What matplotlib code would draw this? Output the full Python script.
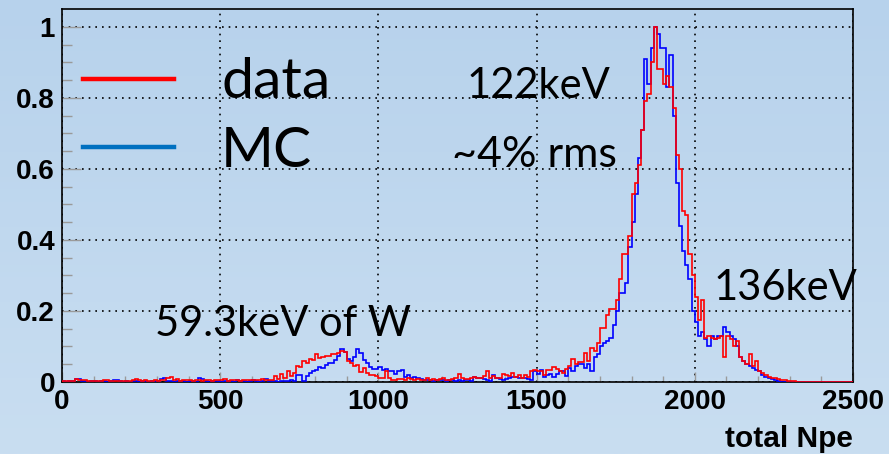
import numpy as np
import matplotlib.pyplot as plt
from matplotlib.colors import LinearSegmentedColormap
from matplotlib.lines import Line2D

# 10 Npe bins from 0 to 2500, peak-normalised
edges = np.arange(0, 2510, 10)

data_counts = [
    0.003, 0.002, 0.004, 0.003, 0.008, 0.006, 0.005, 0.007, 0.002, 0.003,   # 0
    0.002, 0.004, 0.003, 0.006, 0.005, 0.002, 0.003, 0.004, 0.002, 0.003,   # 100
    0.004, 0.003, 0.006, 0.008, 0.005, 0.003, 0.007, 0.004, 0.003, 0.005,   # 200
    0.004, 0.006, 0.005, 0.011, 0.014, 0.006, 0.008, 0.004, 0.007, 0.005,   # 300
    0.006, 0.004, 0.007, 0.005, 0.004, 0.007, 0.006, 0.004, 0.005, 0.007,   # 400
    0.005, 0.008, 0.004, 0.006, 0.007, 0.005, 0.004, 0.006, 0.005, 0.007,   # 500
    0.007, 0.005, 0.006, 0.008, 0.007, 0.006, 0.007, 0.016, 0.009, 0.023,   # 600
    0.012, 0.031, 0.016, 0.025, 0.044, 0.042, 0.058, 0.054, 0.065, 0.061,   # 700
    0.080, 0.068, 0.070, 0.072, 0.074, 0.080, 0.080, 0.082, 0.086, 0.084,   # 800
    0.058, 0.054, 0.044, 0.049, 0.027, 0.039, 0.025, 0.020, 0.020, 0.016,   # 900
    0.011, 0.011, 0.030, 0.011, 0.005, 0.005, 0.008, 0.008, 0.006, 0.011,   # 1000
    0.008, 0.006, 0.009, 0.005, 0.007, 0.010, 0.006, 0.008, 0.005, 0.009,   # 1100
    0.010, 0.007, 0.007, 0.009, 0.010, 0.023, 0.012, 0.008, 0.009, 0.010,   # 1200
    0.014, 0.010, 0.012, 0.017, 0.030, 0.012, 0.017, 0.012, 0.010, 0.023,   # 1300
    0.019, 0.017, 0.026, 0.014, 0.019, 0.012, 0.019, 0.014, 0.030, 0.033,   # 1400
    0.030, 0.030, 0.020, 0.033, 0.033, 0.042, 0.036, 0.030, 0.026, 0.036,   # 1500
    0.045, 0.064, 0.050, 0.055, 0.055, 0.083, 0.060, 0.097, 0.087, 0.110,   # 1600
    0.153, 0.153, 0.190, 0.205, 0.205, 0.230, 0.290, 0.360, 0.360, 0.410,   # 1700
    0.530, 0.560, 0.610, 0.710, 0.790, 0.810, 0.900, 1.000, 0.880, 0.880,   # 1800
    0.840, 0.860, 0.830, 0.770, 0.640, 0.600, 0.480, 0.470, 0.360, 0.300,   # 1900
    0.240, 0.175, 0.230, 0.125, 0.130, 0.125, 0.120, 0.125, 0.130, 0.070,   # 2000
    0.130, 0.120, 0.100, 0.115, 0.070, 0.060, 0.050, 0.080, 0.045, 0.060,   # 2100
    0.030, 0.025, 0.020, 0.015, 0.012, 0.010, 0.008, 0.007, 0.005, 0.003,   # 2200
    0.003, 0.002, 0.001, 0.0, 0.0, 0.0, 0.0, 0.0, 0.0, 0.0,                 # 2300
    0.0, 0.0, 0.0, 0.0, 0.0, 0.0, 0.0, 0.0, 0.0, 0.0,                       # 2400
]

mc_counts = [
    0.002, 0.001, 0.003, 0.002, 0.009, 0.009, 0.004, 0.002, 0.001, 0.002,   # 0
    0.002, 0.001, 0.003, 0.002, 0.001, 0.002, 0.006, 0.006, 0.002, 0.001,   # 100
    0.002, 0.001, 0.002, 0.003, 0.001, 0.002, 0.002, 0.001, 0.003, 0.002,   # 200
    0.002, 0.008, 0.011, 0.003, 0.002, 0.001, 0.002, 0.003, 0.002, 0.001,   # 300
    0.002, 0.003, 0.001, 0.011, 0.009, 0.002, 0.001, 0.002, 0.003, 0.002,   # 400
    0.001, 0.002, 0.003, 0.002, 0.001, 0.006, 0.003, 0.002, 0.001, 0.002,   # 500
    0.006, 0.002, 0.001, 0.003, 0.008, 0.002, 0.002, 0.003, 0.001, 0.002,   # 600
    0.002, 0.002, 0.005, 0.002, 0.020, 0.020, 0.002, 0.016, 0.025, 0.030,   # 700
    0.035, 0.042, 0.040, 0.049, 0.054, 0.054, 0.061, 0.072, 0.093, 0.084,   # 800
    0.065, 0.058, 0.070, 0.093, 0.082, 0.063, 0.054, 0.042, 0.037, 0.037,   # 900
    0.042, 0.035, 0.037, 0.030, 0.030, 0.023, 0.030, 0.035, 0.015, 0.020,   # 1000
    0.011, 0.014, 0.011, 0.008, 0.007, 0.005, 0.006, 0.004, 0.005, 0.006,   # 1100
    0.005, 0.004, 0.005, 0.006, 0.004, 0.005, 0.004, 0.006, 0.005, 0.004,   # 1200
    0.014, 0.011, 0.010, 0.009, 0.005, 0.004, 0.019, 0.011, 0.008, 0.007,   # 1300
    0.009, 0.010, 0.014, 0.013, 0.011, 0.012, 0.010, 0.009, 0.005, 0.030,   # 1400
    0.023, 0.033, 0.014, 0.020, 0.023, 0.014, 0.023, 0.030, 0.030, 0.017,   # 1500
    0.040, 0.030, 0.045, 0.050, 0.050, 0.040, 0.050, 0.030, 0.070, 0.080,   # 1600
    0.100, 0.110, 0.115, 0.125, 0.160, 0.200, 0.250, 0.250, 0.280, 0.380,   # 1700
    0.450, 0.530, 0.630, 0.710, 0.910, 0.840, 0.940, 1.000, 0.980, 0.940,   # 1800
    0.940, 0.830, 0.920, 0.750, 0.560, 0.440, 0.370, 0.330, 0.290, 0.200,   # 1900
    0.170, 0.130, 0.140, 0.120, 0.100, 0.130, 0.120, 0.130, 0.130, 0.155,   # 2000
    0.140, 0.130, 0.120, 0.100, 0.070, 0.060, 0.050, 0.045, 0.040, 0.035,   # 2100
    0.030, 0.020, 0.015, 0.010, 0.008, 0.005, 0.003, 0.001, 0.0, 0.0,       # 2200
    0.0, 0.0, 0.0, 0.0, 0.0, 0.0, 0.0, 0.0, 0.0, 0.0,                       # 2300
    0.0, 0.0, 0.0, 0.0, 0.0, 0.0, 0.0, 0.0, 0.0, 0.0,                       # 2400
]

x_ticks = [0, 500, 1000, 1500, 2000, 2500]
y_ticks = [0, 0.2, 0.4, 0.6, 0.8, 1.0]
y_labels = ["0", "0.2", "0.4", "0.6", "0.8", "1"]

W, H = 889, 454
fig = plt.figure(figsize=(W / 100, H / 100), dpi=100)

# slide-style light blue background
bg = fig.add_axes([0, 0, 1, 1], zorder=0)
cmap = LinearSegmentedColormap.from_list("slide", ["#b7d2ec", "#c9def1"])
bg.imshow(np.linspace(0, 1, 256)[:, None], aspect="auto", cmap=cmap, extent=[0, 1, 0, 1])
bg.axis("off")

ax = fig.add_axes([62 / W, 72 / H, 791 / W, 373 / H], zorder=1)
ax.patch.set_alpha(0)

ax.stairs(mc_counts, edges, color="#0000ff", lw=1.2, zorder=3)
ax.stairs(data_counts, edges, color="#ff0000", lw=1.2, zorder=4)

ax.set_xlim(0, 2500)
ax.set_ylim(0, 1.05)

tick_font = {"family": "Liberation Sans", "weight": "bold", "size": 20}
ax.set_xticks(x_ticks)
ax.set_xticklabels([str(t) for t in x_ticks], fontdict=tick_font)
ax.set_xticks(np.arange(0, 2501, 100), minor=True)
ax.set_yticks(y_ticks)
ax.set_yticklabels(y_labels, fontdict=tick_font)
ax.set_yticks(np.arange(0, 1.05, 0.05), minor=True)

ax.tick_params(which="both", direction="in", color="#9a9a9a", width=1)
ax.tick_params(axis="x", which="major", length=7, pad=5)
ax.tick_params(axis="x", which="minor", length=4)
ax.tick_params(axis="y", which="major", length=14, pad=5)
ax.tick_params(axis="y", which="minor", length=7)

ax.grid(which="major", color="black", linestyle=(0, (1, 3)), lw=1.2)
for s in ax.spines.values():
    s.set_color("black")
    s.set_linewidth(1.2)

# legend
handles = [Line2D([], [], color="#ff0000", lw=3.2), Line2D([], [], color="#0070c0", lw=3.2)]
ax.legend(handles, ["data", "MC"], loc="upper left", bbox_to_anchor=(0.027, 0.87),
          frameon=False, prop={"family": "Lato", "size": 41},
          handlelength=1.6, handletextpad=0.82, labelspacing=0.31,
          borderpad=0, borderaxespad=0)

note = {"family": "Lato", "size": 30, "color": "black", "va": "baseline"}
ax.text(1280, 0.80, "122keV", **note)
ax.text(1233, 0.605, "~4% rms", size=31, **{k: v for k, v in note.items() if k != "size"})
ax.text(2060, 0.23, "136keV", **note)
ax.text(295, 0.13, "59.3keV of W", **note)

fig.text(853 / W, 1 - 447 / H, "total Npe", ha="right", va="baseline",
         family="Liberation Sans", weight="bold", size=21.5)

fig.savefig("out.png", dpi=100)
